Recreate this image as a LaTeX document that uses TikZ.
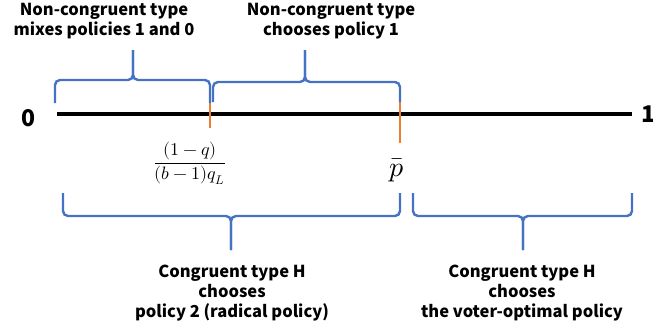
\documentclass[tikz,border=0pt]{standalone}
\usepackage{amsmath}
\usepackage{fontspec}
\usepackage{unicode-math}
\setmainfont{Noto Sans CJK JP}
\setmathfont{Latin Modern Math}
\usepackage{tikz}
\definecolor{braceblue}{HTML}{4472C4}
\definecolor{tickorange}{HTML}{ED7D31}

\begin{document}
\begin{tikzpicture}[x=1pt,y=-1pt,
    bracepath/.style={draw=braceblue,line width=2.4pt,rounded corners=5pt},
    tickmark/.style={draw=tickorange,line width=2.4pt},
    lbl/.style={font=\bfseries\fontsize{16.5}{20}\selectfont,align=center,inner sep=0pt},
    endlbl/.style={font=\bfseries\fontsize{23}{23}\selectfont,inner sep=0pt}]
  \useasboundingbox (0,0) rectangle (653,327);
  % the unit interval
  \coordinate (lo) at (57,114);
  \coordinate (hi) at (632,114);
  \draw[line width=3.6pt] (lo) -- (hi);
  \node[endlbl] (zero) at (29,118) {0};
  \node[endlbl] (one) at (648,114) {1};
  % cut-off points
  \coordinate (c1) at (210,114);
  \coordinate (c2) at (400,114);
  \draw[tickmark] ([yshift=-14pt]c1) -- ([yshift=28pt]c1);
  \draw[tickmark] ([yshift=-29pt]c2) -- ([yshift=28pt]c2);
  \node[inner sep=0pt] (cut1) at (190,163)
    {\fontsize{18}{20}\selectfont$\dfrac{(1-q)}{(b-1)q_L}$};
  \node[inner sep=0pt] (cut2) at (397,170) {\fontsize{28}{28}\selectfont$\bar{p}$};
  % braces: left end / tip x / right end / bar y / end y / tip y
  \foreach \a/\m/\b/\y/\e/\t in {55/133/210/80/103/50, 213/305/400/82/102/50,
                                  63/231/400/216/193/250, 413/523/632/216/193/250}{
    \draw[bracepath] (\a,\e) -- (\a,\y) -- (\m,\y) -- (\m,\t);
    \draw[bracepath] (\m,\t) -- (\m,\y) -- (\b,\y) -- (\b,\e);
  }
  % what each type does
  \node[lbl] (mix) at (104,21) {Non-congruent type\\mixes policies 1 and 0};
  \node[lbl] (pone) at (331,21) {Non-congruent type\\chooses policy 1};
  \node[lbl] (radical) at (232,293) {Congruent type H\\chooses\\policy 2 (radical policy)};
  \node[lbl] (voter) at (522,293) {Congruent type H\\chooses\\the voter-optimal policy};
\end{tikzpicture}
\end{document}
